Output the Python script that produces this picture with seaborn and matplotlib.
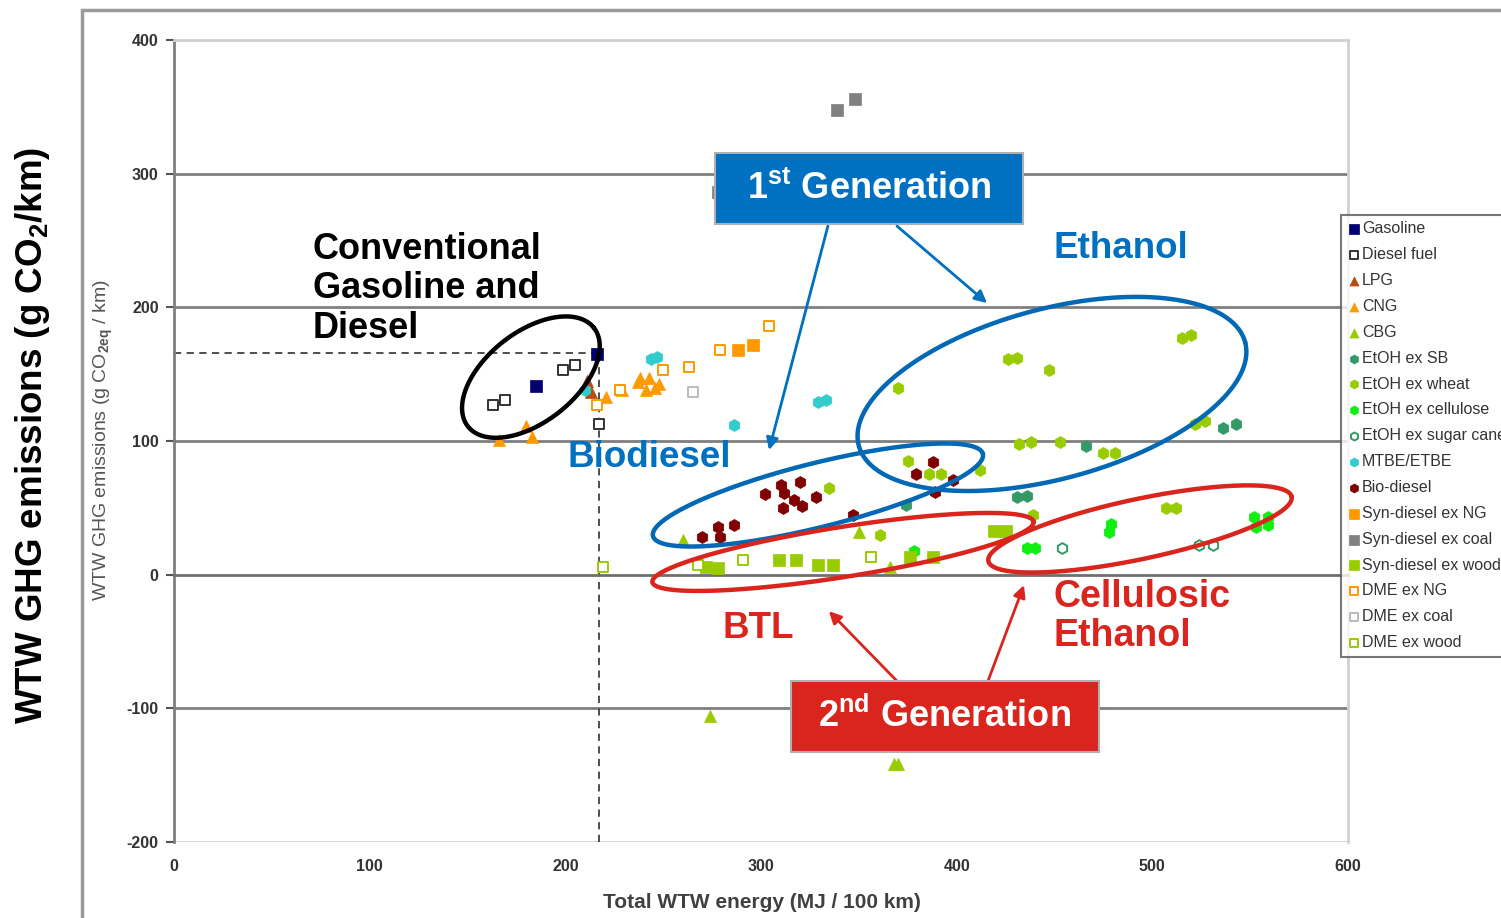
import numpy as np
import pandas as pd
import seaborn as sns
import matplotlib.pyplot as plt
from matplotlib.patches import Rectangle
from matplotlib.lines import Line2D

# ---- values (x: MJ / 100 km, y: g CO2eq / km) ----
gasoline_x = [185, 216]
gasoline_y = [141, 165]
diesel_x = [163, 169, 199, 205, 217]
diesel_y = [127, 131, 153, 157, 113]
lpg_x = [211, 213]
lpg_y = [145, 137]
cng_x = [166, 180, 183, 221, 229, 237, 238, 243, 246, 248, 241]
cng_y = [101, 111, 103, 133, 138, 144, 147, 147, 140, 143, 138]
cbg_x = [274, 368, 370, 260, 350, 366]
cbg_y = [-106, -142, -142, 26, 32, 6]
etoh_sb_x = [374, 431, 436, 466, 536, 543]
etoh_sb_y = [52, 58, 59, 96, 110, 113]
etoh_wheat_x = [515, 520, 426, 431, 447, 370, 432, 438, 453, 475, 481,
                522, 527, 507, 512, 375, 386, 392, 412, 335, 361, 439]
etoh_wheat_y = [177, 179, 161, 162, 153, 140, 98, 99, 99, 91, 91,
                113, 115, 50, 50, 85, 75, 75, 78, 65, 30, 45]
etoh_cell_x = [436, 440, 479, 478, 552, 559, 553, 559, 378]
etoh_cell_y = [20, 20, 38, 32, 43, 43, 36, 37, 18]
etoh_cane_x = [454, 524, 531]
etoh_cane_y = [20, 22, 22]
mtbe_x = [244, 247, 286, 329, 333, 210]
mtbe_y = [161, 163, 112, 129, 131, 138]
biodiesel_x = [270, 278, 279, 286, 302, 310, 312, 320, 317, 321, 311, 328,
               347, 388, 379, 398, 389]
biodiesel_y = [28, 36, 28, 37, 60, 67, 61, 69, 56, 51, 50, 58,
               45, 84, 75, 71, 62]
syn_ng_x = [288, 296]
syn_ng_y = [168, 172]
syn_coal_x = [339, 348, 278]
syn_coal_y = [348, 356, 286]
syn_wood_x = [272, 278, 309, 318, 329, 337, 376, 388, 419, 425]
syn_wood_y = [6, 5, 11, 11, 7, 7, 13, 13, 33, 33]
dme_ng_x = [216, 228, 250, 263, 279, 304]
dme_ng_y = [127, 138, 153, 155, 168, 186]
dme_coal_x = [265]
dme_coal_y = [137]
dme_wood_x = [219, 268, 291, 356]
dme_wood_y = [6, 7, 11, 13]

fuel_names = ["Gasoline", "Diesel fuel", "LPG", "CNG", "CBG", "EtOH ex SB",
              "EtOH ex wheat", "EtOH ex cellulose", "EtOH ex sugar cane",
              "MTBE/ETBE", "Bio-diesel", "Syn-diesel ex NG", "Syn-diesel ex coal",
              "Syn-diesel ex wood", "DME ex NG", "DME ex coal", "DME ex wood"]
fuel_xs = [gasoline_x, diesel_x, lpg_x, cng_x, cbg_x, etoh_sb_x, etoh_wheat_x,
           etoh_cell_x, etoh_cane_x, mtbe_x, biodiesel_x, syn_ng_x, syn_coal_x,
           syn_wood_x, dme_ng_x, dme_coal_x, dme_wood_x]
fuel_ys = [gasoline_y, diesel_y, lpg_y, cng_y, cbg_y, etoh_sb_y, etoh_wheat_y,
           etoh_cell_y, etoh_cane_y, mtbe_y, biodiesel_y, syn_ng_y, syn_coal_y,
           syn_wood_y, dme_ng_y, dme_coal_y, dme_wood_y]

# conventional gasoline reference (dashed lines)
ref_x, ref_y = 217, 166

# ---- styles ----
fuel_colors = ["#000070", "#333333", "#B84A14", "#FF9900", "#99CC00", "#339966",
               "#99CC00", "#11EE11", "#339966", "#33CCCC", "#800000", "#FF9900",
               "#808080", "#99CC00", "#FF9900", "#BBBBBB", "#99CC00"]
fuel_markers = ["s", "s", "^", "^", "^", "h", "h", "h", "h", "h", "h",
                "s", "s", "s", "s", "s", "s"]
fuel_filled = [True, False, True, True, True, True, True, True, False, True, True,
               True, True, True, False, False, False]

df = pd.concat([pd.DataFrame({"fuel": n, "energy": xs, "ghg": ys})
                for n, xs, ys in zip(fuel_names, fuel_xs, fuel_ys)], ignore_index=True)

sns.set_theme(style="white")
plt.rcParams['font.family'] = ['Liberation Sans', 'DejaVu Sans']
plt.rcParams['axes.unicode_minus'] = False
plt.rcParams['mathtext.fontset'] = 'custom'
plt.rcParams['mathtext.rm'] = 'Liberation Sans:bold'
plt.rcParams['mathtext.bf'] = 'Liberation Sans:bold'

W, H = 1501, 918
fig = plt.figure(figsize=(W / 100, H / 100), dpi=100)
ax = fig.add_axes([174 / W, 76 / H, 1174 / W, 802 / H])

for name, m, c, filled in zip(fuel_names, fuel_markers, fuel_colors, fuel_filled):
    sub = df[df["fuel"] == name]
    if filled:
        sns.scatterplot(data=sub, x="energy", y="ghg", marker=m, s=75, color=c,
                        edgecolor=c, linewidth=0.5, label=name, ax=ax, zorder=3)
    else:
        sns.scatterplot(data=sub, x="energy", y="ghg", marker=m, s=60, color="white",
                        edgecolor=c, linewidth=1.4, label=name, ax=ax, zorder=3)

ax.set_xlim(0, 600)
ax.set_ylim(-200, 400)
ax.set_xlabel("")
ax.set_ylabel("")

# gridlines and frame
for v in [300, 200, 100, -100]:
    ax.axhline(v, color="#7f7f7f", lw=2, zorder=1)
ax.axhline(-200, color="#d0d0d0", lw=2, zorder=1)
ax.spines['left'].set_color("#7f7f7f")
ax.spines['left'].set_linewidth(2)
for s in ['top', 'right']:
    ax.spines[s].set_color("#d0d0d0")
    ax.spines[s].set_linewidth(2)
ax.spines['bottom'].set_position(('data', 0))
ax.spines['bottom'].set_color("#6f6f6f")
ax.spines['bottom'].set_linewidth(2)

ax.set_xticks(range(0, 601, 100))
ax.set_yticks(range(-200, 401, 100))
ax.tick_params(axis='x', direction='out', length=6, width=1.5, color="#555555",
               pad=199, labelsize=11.5, labelcolor="#333333")
ax.tick_params(axis='y', direction='out', length=6, width=1.5, color="#555555",
               pad=5, labelsize=11.5, labelcolor="#333333", left=True)
for lab in ax.get_xticklabels() + ax.get_yticklabels():
    lab.set_fontweight('bold')

# dashed reference lines
ax.plot([0, ref_x], [ref_y, ref_y], ls=(0, (4, 3)), color="#404040", lw=1.3, zorder=2)
ax.plot([ref_x, ref_x], [-200, ref_y], ls=(0, (4, 3)), color="#404040", lw=1.3, zorder=2)

# legend (cropped at the right edge, as in the original slide)
handles, labels = ax.get_legend_handles_labels()
leg = ax.legend(handles, labels, loc='upper left', bbox_to_anchor=(1341 / W, 1 - 215 / H),
                bbox_transform=fig.transFigure, frameon=True, fancybox=False,
                edgecolor="#555555", fontsize=11.5, labelspacing=0.68, handletextpad=0.1,
                handlelength=0.8, borderpad=0.4, borderaxespad=0, markerscale=0.75)
leg.get_frame().set_linewidth(1.5)
leg.set_zorder(10)
for t in leg.get_texts():
    t.set_color("#333333")

# ---- annotations ----
blue = "#0070C0"
red = "#D9251D"

sx = ax.transData.transform((1, 0))[0] - ax.transData.transform((0, 0))[0]
sy = ax.transData.transform((0, 1))[1] - ax.transData.transform((0, 0))[1]


def ellipse(cx, cy, a, b, ang, color):
    t = np.linspace(0, 2 * np.pi, 300)
    th = np.radians(ang)
    dx = a * np.cos(t) * np.cos(th) - b * np.sin(t) * np.sin(th)
    dy = a * np.cos(t) * np.sin(th) + b * np.sin(t) * np.cos(th)
    ax.plot(cx + dx / sx, cy + dy / sy, color=color, lw=3.2, zorder=6, clip_on=False)


ellipse(182.4, 147.8, 80, 45, 38, "black")
ellipse(448.7, 135.2, 200, 85, 15, "#0068B5")
ellipse(329.1, 59.6, 170, 32, 14, "#0068B5")
ellipse(341.9, 17.0, 193, 25, 9, red)
ellipse(493.7, 34.2, 155, 30, 12, red)


def arrow(start, end, color):
    ax.annotate("", xy=end, xytext=start,
                arrowprops=dict(arrowstyle='-|>', color=color, lw=2,
                                mutation_scale=18, shrinkA=0, shrinkB=0), zorder=7)


arrow((334.2, 260.8), (304.1, 93.2), blue)
arrow((369.5, 260.8), (415.5, 203.2), blue)
arrow((369.5, -79.6), (334.7, -27.3), red)
arrow((416.0, -79.6), (434.4, -7.8), red)

ax.add_patch(Rectangle((276.5, 262.2), 157.4, 53.1, facecolor=blue, edgecolor="#b0b0b0",
                       lw=1.5, zorder=8))
ax.text(355.2, 288.4, r"1$^{\mathbf{st}}$ Generation", color="white", fontsize=26,
        fontweight='bold', ha='center', va='center', zorder=9)
ax.add_patch(Rectangle((315.3, -132.7), 157.4, 53.1, facecolor=red, edgecolor="#b0b0b0",
                       lw=1.5, zorder=8))
ax.text(394.0, -105.7, r"2$^{\mathbf{nd}}$ Generation", color="white", fontsize=26,
        fontweight='bold', ha='center', va='center', zorder=9)

ax.text(71, 214, "Conventional\nGasoline and\nDiesel", color="black", fontsize=26,
        fontweight='bold', ha='left', va='center', linespacing=1.17, zorder=9)
ax.text(484, 244, "Ethanol", color=blue, fontsize=26.5, fontweight='bold',
        ha='center', va='center', zorder=9)
ax.text(242.8, 88, "Biodiesel", color=blue, fontsize=26.5, fontweight='bold',
        ha='center', va='center', zorder=9)
ax.text(298.5, -40, "BTL", color=red, fontsize=26.5, fontweight='bold',
        ha='center', va='center', zorder=9)
ax.text(449.7, -31, "Cellulosic\nEthanol", color=red, fontsize=27, fontweight='bold',
        ha='left', va='center', linespacing=1.1, zorder=9)

# axis titles
fig.text(762 / W, 1 - 902 / H, "Total WTW energy (MJ / 100 km)", fontsize=15,
         fontweight='bold', color="#404040", ha='center', va='center')
fig.text(103 / W, 1 - 440 / H, r"WTW GHG emissions (g CO$_{\mathrm{2eq}}$ / km)",
         fontsize=14, color="#555555", rotation=90, ha='center', va='center')
fig.text(33 / W, 1 - 435 / H, r"WTW GHG emissions (g CO$_{\mathbf{2}}$/km)",
         fontsize=26.5, fontweight='bold', color="black", rotation=90,
         ha='center', va='center')

# outer slide frame
fig.add_artist(Line2D([82 / W, 82 / W], [0, 1 - 10 / H], transform=fig.transFigure,
                      color="#9a9a9a", lw=2.5))
fig.add_artist(Line2D([82 / W, 1], [1 - 10 / H, 1 - 10 / H], transform=fig.transFigure,
                      color="#9a9a9a", lw=2.5))

fig.savefig("out.png", dpi=100)
